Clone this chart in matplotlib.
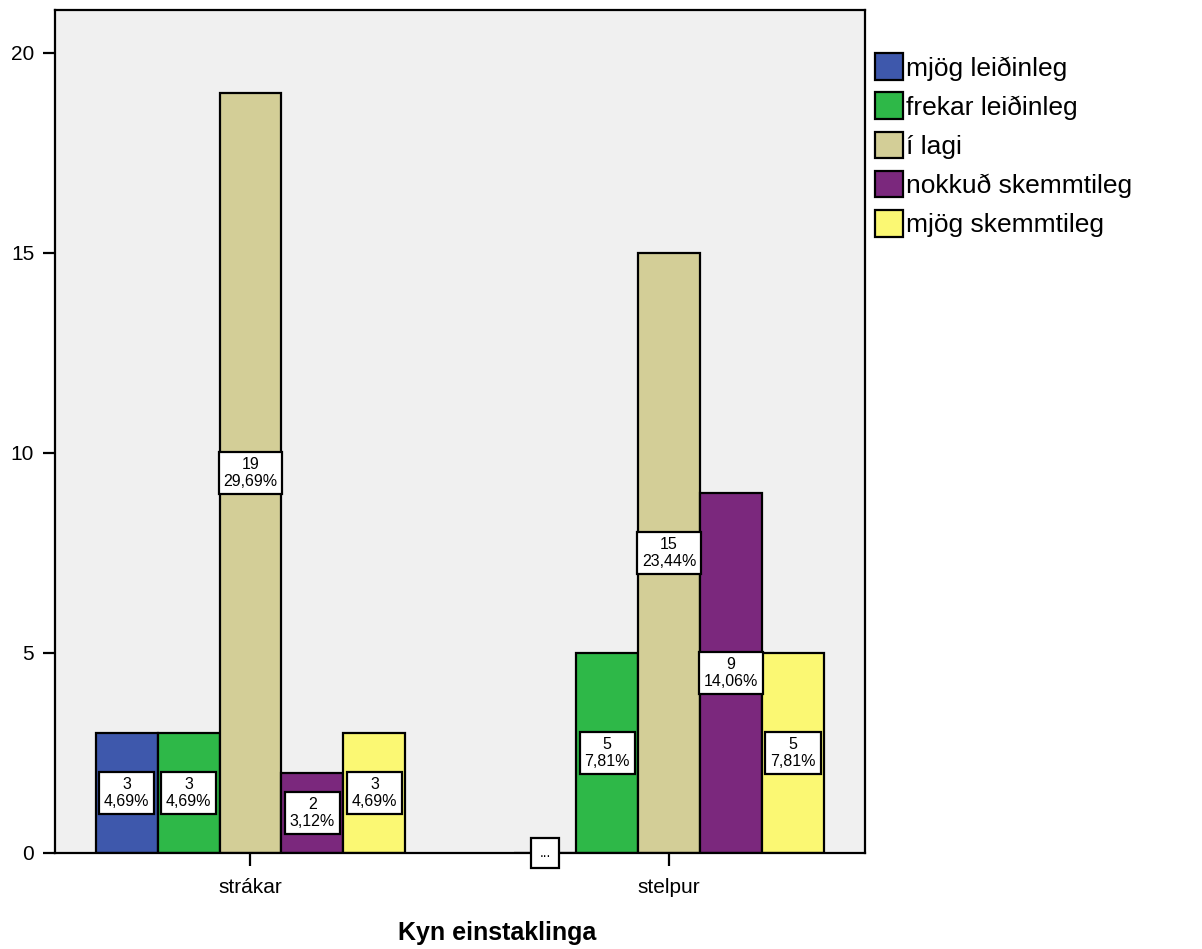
import matplotlib
matplotlib.use("Agg")
import matplotlib.pyplot as plt
from matplotlib.patches import Patch
import numpy as np

plt.rcParams['font.family'] = ['Liberation Sans', 'DejaVu Sans']

groups = ["strákar", "stelpur"]
series = ["mjög leiðinleg", "frekar leiðinleg", "í lagi", "nokkuð skemmtileg", "mjög skemmtileg"]
colors = ["#3E58AC", "#2EB848", "#D3CE97", "#7B287D", "#FBF873"]
counts = [
    [3, 0],
    [3, 5],
    [19, 15],
    [2, 9],
    [3, 5],
]
percents = [
    ["4,69%", None],
    ["4,69%", "7,81%"],
    ["29,69%", "23,44%"],
    ["3,12%", "14,06%"],
    ["4,69%", "7,81%"],
]
yticks = [0, 5, 10, 15, 20]
xlabel = "Kyn einstaklinga"

fig = plt.figure(figsize=(12.02, 9.49), dpi=100)
ax = fig.add_axes([55/1202, 1-853/949, 810/1202, 843/949])
ax.set_facecolor("#F0F0F0")

x = np.arange(len(groups))
w = 0.148
n = len(series)
for i, (name, col) in enumerate(zip(series, colors)):
    pos = x + (i - (n-1)/2) * w
    vals = counts[i]
    ax.bar(pos, vals, width=w, color=col, edgecolor="black", linewidth=1.6, zorder=2)
    for j, v in enumerate(vals):
        if v > 0:
            ax.text(pos[j], v/2, f"{v}\n{percents[i][j]}", ha="center", va="center",
                    fontsize=11.5, zorder=5, linespacing=1.2,
                    bbox=dict(boxstyle="square,pad=0.3", fc="white", ec="black", lw=1.6))
        else:
            ax.text(pos[j], 0, "...", ha="center", va="center", fontsize=10, zorder=5,
                    clip_on=False,
                    bbox=dict(boxstyle="square,pad=0.6", fc="white", ec="black", lw=1.6))

ax.set_xlim(-0.467, 1.468)
ax.set_ylim(0, 21.075)
ax.set_xticks(x)
ax.set_xticklabels(groups, fontsize=15)
ax.set_yticks(yticks)
ax.set_yticklabels([str(t) for t in yticks], fontsize=15)
ax.tick_params(axis='both', direction='out', length=9, width=1.6, pad=6)
ax.tick_params(axis='x', pad=9)
for s in ax.spines.values():
    s.set_linewidth(1.6)
fig.text(497/1202, 1-940/949, xlabel, fontsize=18, fontweight="bold",
         ha="center", va="baseline")

handles = [Patch(facecolor=c, edgecolor="black", linewidth=1.6, label=s) for s, c in zip(series, colors)]
fig.legend(handles=handles, loc="upper left", bbox_to_anchor=(870/1202, 1-48/949),
           frameon=False, fontsize=19, handlelength=1.06, handleheight=1.18,
           handletextpad=0.1, labelspacing=0.45, borderaxespad=0, borderpad=0.2)

fig.savefig("out.png", dpi=100)
